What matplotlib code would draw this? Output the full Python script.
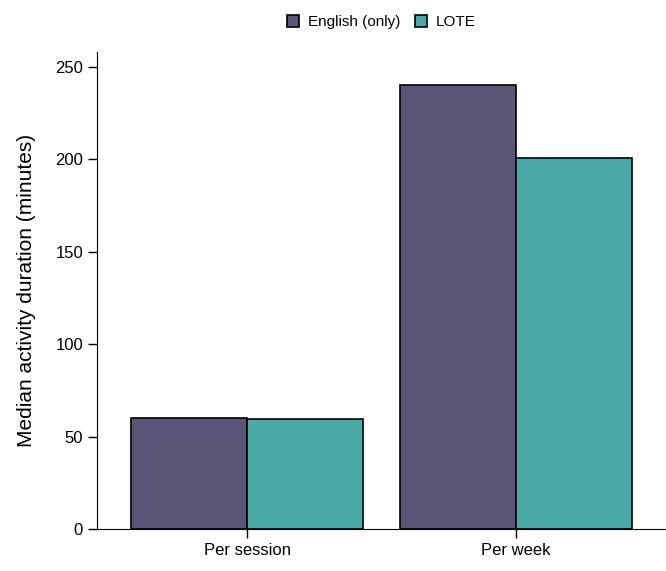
import matplotlib.pyplot as plt
import numpy as np

plt.rcParams['font.family'] = ['Liberation Sans', 'DejaVu Sans']

# data
categories = ['Per session', 'Per week']
english_only = [60, 240]
lote = [59.5, 200.5]
series_names = ['English (only)', 'LOTE']
colors = ['#5a5678', '#4aa9a7']

x = np.arange(len(categories))
w = 0.43

fig = plt.figure(figsize=(6.66, 5.71), dpi=100)
ax = fig.add_axes([0.1456, 0.0736, 0.8544, 0.8354])

ax.bar(x - w/2, english_only, w, color=colors[0], edgecolor='black', linewidth=1.2, label=series_names[0])
ax.bar(x + w/2, lote, w, color=colors[1], edgecolor='black', linewidth=1.2, label=series_names[1])

ax.set_xlim(-0.558, 1.558)
ax.set_ylim(0, 258)
ax.set_yticks([0, 50, 100, 150, 200, 250])
ax.set_xticks(x)
ax.set_xticklabels(categories)
ax.set_ylabel('Median activity duration (minutes)', fontsize=15, labelpad=14)
ax.tick_params(labelsize=12, length=6.5, width=1)

for s in ['top', 'right']:
    ax.spines[s].set_visible(False)

ax.legend(loc='center', bbox_to_anchor=(0.5, 1.063), ncol=2, frameon=False,
          fontsize=11, handlelength=0.8, handleheight=0.8, columnspacing=0.9, handletextpad=0.6)

fig.savefig('out.png', dpi=100)
